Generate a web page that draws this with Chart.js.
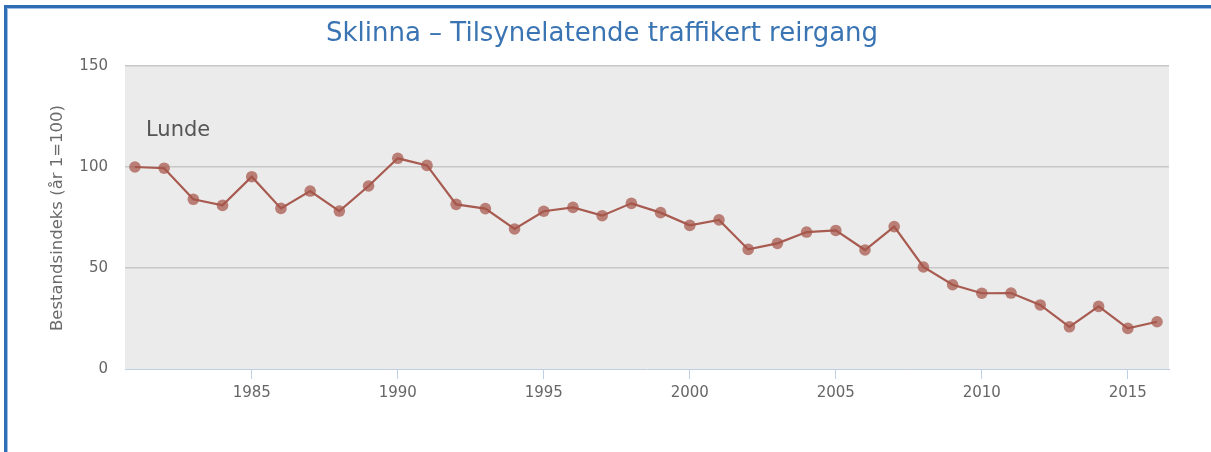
<!DOCTYPE html>
<html>
<head>
<meta charset="utf-8">
<script src="https://cdn.jsdelivr.net/npm/chart.js@4/dist/chart.umd.min.js"></script>
<style>
  html, body { margin: 0; padding: 0; background: #fff; overflow: hidden; }
  #frame { position: absolute; left: 4px; top: 5px; width: 1400px; height: 600px;
           border-left: 3px solid #2f6db5; border-top: 3px solid #2f6db5;
           box-shadow: inset 1px 1px 0 #9dbde2; }
  #wrap { position: absolute; left: 0; top: 0; width: 1211px; height: 452px; }
</style>
</head>
<body>
<div id="frame"></div>
<div id="wrap"><canvas id="c" width="1211" height="452"></canvas></div>
<script>
const titleText = "Sklinna – Tilsynelatende traffikert reirgang";
const seriesName = "Lunde";
const yAxisTitle = "Bestandsindeks (år 1=100)";
const years = [1981,1982,1983,1984,1985,1986,1987,1988,1989,1990,1991,1992,1993,1994,1995,1996,1997,1998,1999,2000,2001,2002,2003,2004,2005,2006,2007,2008,2009,2010,2011,2012,2013,2014,2015,2016];
const values = [100,99.4,84,81,95.2,79.5,88.1,78.2,90.6,104.3,100.8,81.5,79.4,69.3,78.1,80,75.9,82,77.4,71.1,73.8,59.2,62.2,67.8,68.6,58.9,70.5,50.5,41.7,37.5,37.6,31.7,20.9,31,20.1,23.4];
const xTicks = [1985,1990,1995,2000,2005,2010,2015];
const yTicks = [0,50,100,150];

const FONT = "'DejaVu Sans', sans-serif";

const decor = {
  id: 'decor',
  beforeDraw(chart) {
    const {ctx, chartArea: a} = chart;
    ctx.save();
    ctx.fillStyle = '#ebebeb';
    ctx.fillRect(a.left, a.top, a.right - a.left, a.bottom - a.top);
    ctx.restore();
  },
  afterDraw(chart) {
    const {ctx, chartArea: a} = chart;
    ctx.save();
    ctx.fillStyle = '#3a74b3';
    ctx.font = "26px " + FONT;
    ctx.textAlign = 'center';
    ctx.textBaseline = 'middle';
    ctx.fillText(titleText, 602, 34);

    ctx.fillStyle = '#555';
    ctx.font = "21px " + FONT;
    ctx.textAlign = 'left';
    ctx.fillText(seriesName, a.left + 21, 131);

    ctx.fillStyle = '#6a6a6a';
    ctx.font = "16.5px " + FONT;
    ctx.translate(58, 218);
    ctx.rotate(-Math.PI / 2);
    ctx.textAlign = 'center';
    ctx.fillText(yAxisTitle, 0, 0);
    ctx.restore();
  }
};

new Chart(document.getElementById('c'), {
  type: 'line',
  data: {
    datasets: [{
      label: seriesName,
      data: years.map((y, i) => ({x: y, y: values[i]})),
      borderColor: '#a85b50',
      borderWidth: 2.2,
      backgroundColor: 'rgba(165,85,72,0.72)',
      pointBackgroundColor: 'rgba(165,85,72,0.72)',
      pointBorderWidth: 0,
      pointRadius: 5.8,
      tension: 0
    }]
  },
  options: {
    responsive: false,
    animation: false,
    layout: { padding: { top: 66, right: 42, bottom: 0, left: 0 } },
    plugins: { legend: { display: false }, tooltip: { enabled: false }, title: { display: false } },
    scales: {
      x: {
        type: 'linear',
        min: 1980.66,
        max: 2016.41,
        afterBuildTicks(s) { s.ticks = xTicks.map(v => ({value: v})); },
        afterFit(s) { s.height = 83; },
        border: { display: true, color: '#c0d0e2', width: 1 },
        grid: { drawOnChartArea: false, drawTicks: true, tickLength: 10, color: '#c0d0e2' },
        ticks: { color: '#666', font: { family: FONT, size: 15 }, padding: 5, callback: v => String(v), maxRotation: 0 }
      },
      y: {
        min: 0,
        max: 150,
        afterBuildTicks(s) { s.ticks = yTicks.map(v => ({value: v})); },
        afterFit(s) { s.width = 125; },
        border: { display: false },
        grid: { drawTicks: false, color: ctx => ctx.tick && ctx.tick.value === 0 ? 'rgba(0,0,0,0)' : '#c8c8c8', lineWidth: 1.5 },
        ticks: { color: '#666', font: { family: FONT, size: 15 }, padding: 17 }
      }
    }
  },
  plugins: [decor]
});
</script>
</body>
</html>
